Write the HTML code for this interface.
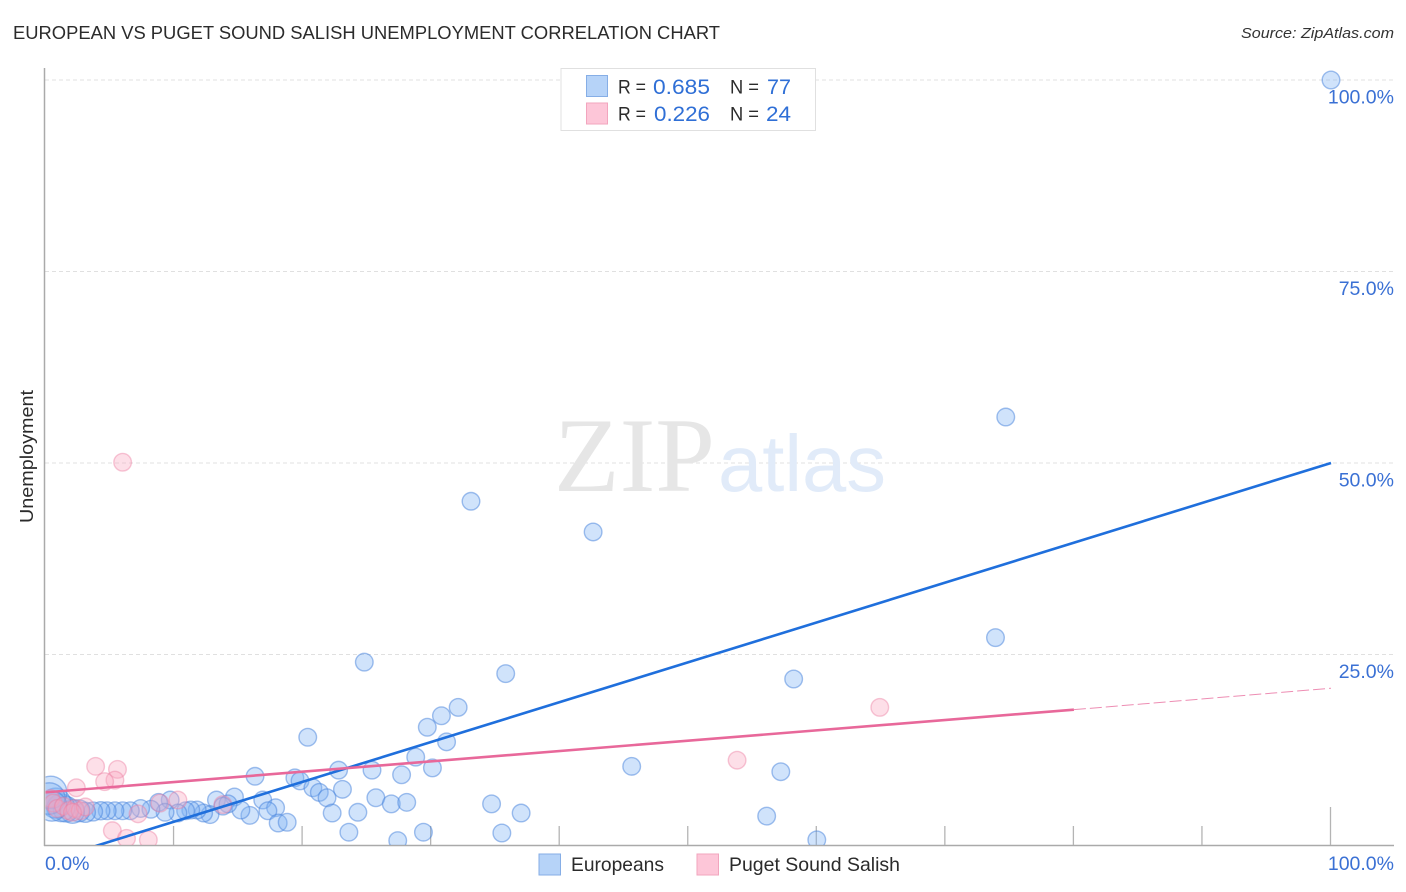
<!DOCTYPE html>
<html lang="en">
<head>
<meta charset="utf-8">
<title>European vs Puget Sound Salish Unemployment Correlation Chart</title>
<style>
html,body{margin:0;padding:0;background:#fff;width:1406px;height:892px;overflow:hidden}
svg{display:block;font-family:"Liberation Sans",sans-serif}
</style>
</head>
<body>
<svg id="chart" width="1406" height="892" viewBox="0 0 1406 892" xmlns="http://www.w3.org/2000/svg">
  <defs>
    <clipPath id="plot-clip"><rect x="45.5" y="60" width="1350" height="785"/></clipPath>
  </defs>
  <text x="13" y="39" font-size="18.5" fill="#2b2b2b" textLength="707" lengthAdjust="spacingAndGlyphs">EUROPEAN VS PUGET SOUND SALISH UNEMPLOYMENT CORRELATION CHART</text>
  <text x="1394" y="38" font-size="15" font-style="italic" fill="#333" text-anchor="end" textLength="153" lengthAdjust="spacingAndGlyphs">Source: ZipAtlas.com</text>
  <text transform="translate(33 456.5) rotate(-90)" font-size="18" fill="#2b2b2b" text-anchor="middle" textLength="133" lengthAdjust="spacingAndGlyphs">Unemployment</text>

  <g id="grid"></g>

  <g>
    <text x="554" y="491" font-family="'Liberation Serif',serif" font-size="106" fill="#e6e6e6" textLength="161" lengthAdjust="spacingAndGlyphs">ZIP</text>
    <text x="718" y="491" font-size="80" fill="#e1ebf9" textLength="168" lengthAdjust="spacingAndGlyphs">atlas</text>
  </g>

  <g id="axes"></g>
  <g id="points-europeans" clip-path="url(#plot-clip)"></g>
  <g id="points-salish" clip-path="url(#plot-clip)"></g>
  <g id="trends" clip-path="url(#plot-clip)"></g>
  <g id="tick-labels"></g>

  <g>
    <rect x="561" y="68.5" width="254.5" height="62" fill="#fff" stroke="#e0e0e0" stroke-width="1"/>
    <rect x="586.5" y="75.5" width="21" height="21" fill="#b6d3f8" stroke="#86aee6"/>
    <rect x="586.5" y="103" width="21" height="21" fill="#fdc6d8" stroke="#f2a5be"/>
    <g font-size="19.5" fill="#2b2b2b">
      <text x="618" y="93.5" textLength="28" lengthAdjust="spacingAndGlyphs">R =</text>
      <text x="730" y="93.5" textLength="29" lengthAdjust="spacingAndGlyphs">N =</text>
      <text x="618" y="120.5" textLength="28" lengthAdjust="spacingAndGlyphs">R =</text>
      <text x="730" y="120.5" textLength="29" lengthAdjust="spacingAndGlyphs">N =</text>
    </g>
    <g font-size="21" fill="#2f6fd6">
      <text x="653" y="94" textLength="57" lengthAdjust="spacingAndGlyphs">0.685</text>
      <text x="767" y="94" textLength="24" lengthAdjust="spacingAndGlyphs">77</text>
      <text x="654" y="121" textLength="56" lengthAdjust="spacingAndGlyphs">0.226</text>
      <text x="766" y="121" textLength="25" lengthAdjust="spacingAndGlyphs">24</text>
    </g>
  </g>

  <g>
    <rect x="539" y="854" width="21.5" height="21" fill="#b6d3f8" stroke="#86aee6"/>
    <text x="571" y="871" font-size="19.5" fill="#2b2b2b" textLength="93" lengthAdjust="spacingAndGlyphs">Europeans</text>
    <rect x="697" y="854" width="21.5" height="21" fill="#fdc6d8" stroke="#f2a5be"/>
    <text x="729" y="871" font-size="19.5" fill="#2b2b2b" textLength="171" lengthAdjust="spacingAndGlyphs">Puget Sound Salish</text>
  </g>
</svg>
<script>
const yTickValues = [25, 50, 75, 100];
const yTickLabels = ['25.0%', '50.0%', '75.0%', '100.0%'];
const xTickValues = [10, 20, 30, 40, 50, 60, 70, 80, 90, 100];
const xEndLabels = ['0.0%', '100.0%'];

const europeansX = [100,74.7,33.1,42.6,73.9,24.8,35.8,58.2,32.1,30.8,29.7,20.4,31.2,28.8,45.6,30.1,22.8,25.4,57.2,27.7,
  16.3,19.4,19.8,20.8,21.3,23.1,21.9,25.7,26.9,28.1,34.7,37,56.1,24.3,22.3,23.6,29.4,35.5,27.4,60,
  14.7,16.9,13.3,9.7,8.8,17.9,17.3,15.9,15.2,14.2,13.8,18.1,18.8,12.8,12.3,11.8,11.3,10.9,10.3,9.3,
  8.2,7.4,6.6,6,5.4,4.8,4.3,3.7,3.1,2.6,2.1,1.6,1.2,0.8,0.4,0.3,0.5];
const europeansY = [100,56,45,41,27.2,24,22.5,21.8,18.1,17,15.5,14.2,13.6,11.6,10.4,10.2,9.9,9.9,9.7,9.3,
  9.1,8.9,8.5,7.6,7,7.4,6.3,6.3,5.5,5.7,5.5,4.3,3.9,4.4,4.3,1.8,1.8,1.7,0.7,0.8,
  6.4,6,6,6,5.7,5,4.6,4,4.7,5.5,5.2,3,3.1,4.1,4.3,4.7,4.7,4.6,4.3,4.4,
  4.8,4.9,4.6,4.6,4.6,4.6,4.6,4.5,4.4,4.6,4.5,4.8,5,5.6,7,6.2,5.2];
const europeansWeight = [1,1,1,1,1,1,1,1,1,1,1,1,1,1,1,1,1,1,1,1,
  1,1,1,1,1,1,1,1,1,1,1,1,1,1,1,1,1,1,1,1,
  1,1,1,1,1,1,1,1,1,1,1,1,1,1,1,1,1,1,1,1,
  1,1,1,1,1,1,1.05,1.15,1.3,1.55,1.8,2.1,2.5,2.9,3.4,3.2,2.9];

const salishX = [6,64.9,53.8,3.9,5.6,5.4,4.6,2.4,5.2,6.3,8,7.2,8.9,10.3,13.8,0.4,0.6,0.9,1.4,1.8,2.3,2.7,3.1,2.1];
const salishY = [50.1,18.1,11.2,10.4,10,8.6,8.4,7.6,2,1,0.8,4.2,5.6,6,5.4,6.2,5.6,4.9,5.2,4.6,4.9,4.6,5.1,4.4];

const europeansTrendX = [3.9, 100];
const europeansTrendY = [0, 50];
const salishTrendSolidX = [0, 80];
const salishTrendSolidY = [7, 17.8];
const salishTrendDashedX = [80, 100];
const salishTrendDashedY = [17.8, 20.6];

const NS = 'http://www.w3.org/2000/svg';
const xScale = v => 45.5 + 12.855 * v;
const yScale = v => 846 - 7.66 * v;

function make(tag, attrs, parent) {
  const el = document.createElementNS(NS, tag);
  for (const k in attrs) el.setAttribute(k, attrs[k]);
  parent.appendChild(el);
  return el;
}

const gridG = document.getElementById('grid');
const axesG = document.getElementById('axes');
const labelsG = document.getElementById('tick-labels');

yTickValues.forEach((v, i) => {
  const gl = make('line', {x1: 45, x2: 1394, y1: yScale(v), y2: yScale(v), stroke: '#e0e0e0', 'stroke-width': 1, 'stroke-dasharray': '4 3'}, gridG);
  
  
  const t = make('text', {x: 1394, y: yScale(v) + 23.5, 'font-size': 19.5, fill: '#3a70d4', 'text-anchor': 'end'}, labelsG);
  t.textContent = yTickLabels[i];
  
  
});

const yAxis = make('line', {x1: 44.5, x2: 44.5, y1: 68, y2: 846, stroke: '#aaa', 'stroke-width': 1.5}, axesG);


const xAxis = make('line', {x1: 44, x2: 1394, y1: 845.5, y2: 845.5, stroke: '#aaa', 'stroke-width': 1.5}, axesG);



xTickValues.forEach(v => {
  const top = v === 100 ? 807 : 826;
  const tk = make('line', {x1: xScale(v) - 0.5, x2: xScale(v) - 0.5, y1: top, y2: 845, stroke: '#b4b4b4', 'stroke-width': 1.3}, axesG);
  
  
});

const xLeft = make('text', {x: 45, y: 870, 'font-size': 19.5, fill: '#3a70d4'}, labelsG);
xLeft.textContent = xEndLabels[0];


const xRight = make('text', {x: 1394, y: 870, 'font-size': 19.5, fill: '#3a70d4', 'text-anchor': 'end'}, labelsG);
xRight.textContent = xEndLabels[1];



const blueG = document.getElementById('points-europeans');
europeansX.forEach((v, i) => {
  const c = make('circle', {cx: xScale(v), cy: yScale(europeansY[i]), r: 8.8 * Math.sqrt(europeansWeight[i]), fill: 'rgba(125,178,245,0.36)', stroke: 'rgba(70,130,220,0.5)', 'stroke-width': 1.4}, blueG);
  
  
});

const pinkG = document.getElementById('points-salish');
salishX.forEach((v, i) => {
  const c = make('circle', {cx: xScale(v), cy: yScale(salishY[i]), r: 8.8, fill: 'rgba(250,165,192,0.36)', stroke: 'rgba(235,125,160,0.42)', 'stroke-width': 1.4}, pinkG);
  
  
});

const trendG = document.getElementById('trends');
const t1 = make('line', {x1: xScale(europeansTrendX[0]), y1: yScale(europeansTrendY[0]), x2: xScale(europeansTrendX[1]), y2: yScale(europeansTrendY[1]), stroke: '#1f6fdc', 'stroke-width': 2.6}, trendG);


const t2 = make('line', {x1: xScale(salishTrendSolidX[0]), y1: yScale(salishTrendSolidY[0]), x2: xScale(salishTrendSolidX[1]), y2: yScale(salishTrendSolidY[1]), stroke: '#e8689a', 'stroke-width': 2.6}, trendG);


const t3 = make('line', {x1: xScale(salishTrendDashedX[0]), y1: yScale(salishTrendDashedY[0]), x2: xScale(salishTrendDashedX[1]), y2: yScale(salishTrendDashedY[1]), stroke: '#e8689a', 'stroke-width': 1, 'stroke-dasharray': '12 4', opacity: 0.75}, trendG);


</script>
</body>
</html>
